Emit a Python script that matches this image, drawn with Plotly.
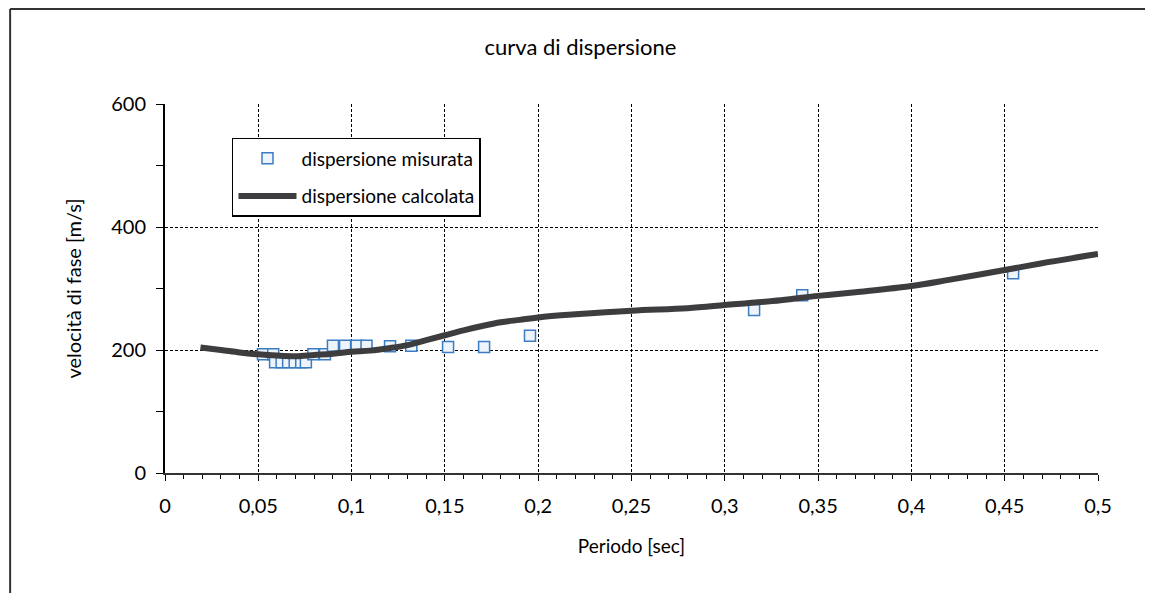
import plotly.graph_objects as go

# dispersione misurata
periodo_mis = [0.0525, 0.058, 0.059, 0.0625, 0.066, 0.0695, 0.073, 0.0755,
               0.0795, 0.0857, 0.090, 0.0965, 0.1027, 0.108, 0.1206, 0.132,
               0.1517, 0.171, 0.1956, 0.3157, 0.3415, 0.4545]
vel_mis = [193, 193, 180, 180, 180, 180, 180, 180,
           193, 193, 207, 207, 207, 207, 206, 207,
           205, 205, 223, 265, 289, 325]

# dispersione calcolata
periodo_calc = [0.019, 0.03, 0.04, 0.05, 0.06, 0.07, 0.08, 0.09, 0.10, 0.11,
                0.12, 0.13, 0.14, 0.15, 0.16, 0.17, 0.18, 0.19, 0.20, 0.22,
                0.25, 0.28, 0.30, 0.33, 0.35, 0.37, 0.40, 0.42, 0.45, 0.47, 0.50]
vel_calc = [204, 200, 196, 193, 191, 190, 192, 194, 197, 199,
            203, 208, 216, 224, 232, 239, 245, 249, 253, 258,
            264, 268, 273, 281, 288, 294, 304, 314, 330, 341, 356]

x_ticks = [0, 0.05, 0.1, 0.15, 0.2, 0.25, 0.3, 0.35, 0.4, 0.45, 0.5]
y_ticks = [0, 200, 400, 600]

font = "Lato"

fig = go.Figure()
fig.add_trace(go.Scatter(
    x=periodo_mis, y=vel_mis, mode="markers", name="dispersione misurata",
    legendgroup="mis",
    marker=dict(symbol="square", size=11, color="#eef4fb",
                line=dict(color="#3b7cc2", width=1.5)),
))
fig.add_trace(go.Scatter(
    x=periodo_calc, y=vel_calc, mode="lines", name="dispersione calcolata",
    legendgroup="calc",
    line=dict(color="#3d3d3f", width=6, shape="spline"),
))

grid = dict(showgrid=True, gridcolor="black", gridwidth=1, griddash="3px,2px")

fig.update_xaxes(
    range=[0, 0.5], tickvals=x_ticks, **grid, zeroline=False,
    showline=True, linecolor="#333", linewidth=2,
    ticks="outside", ticklen=6, tickcolor="black", ticklabelstandoff=8,
    minor=dict(dtick=0.01, ticks="outside", ticklen=4, tickcolor="black", showgrid=False),
    tickfont=dict(family=font, size=20, color="black"),
    title=dict(text="Periodo [sec]", font=dict(family=font, size=19, color="black"), standoff=24),
)
fig.update_yaxes(
    range=[0, 600], tickvals=y_ticks, **grid, zeroline=False,
    showline=True, linecolor="black", linewidth=2,
    ticks="outside", ticklen=7, tickcolor="black", ticklabelstandoff=6,
    minor=dict(tickvals=[100, 300, 500], ticks="outside", ticklen=7, tickcolor="black", showgrid=False),
    tickfont=dict(family=font, size=20, color="black"),
    title=dict(text="velocità di fase [m/s]", font=dict(family=font, size=20, color="black"), standoff=24),
)

# cornice esterna del grafico (sinistra, sopra, destra)
bordo = dict(color="#333", width=2)
fig.add_shape(type="line", xref="paper", yref="paper",
              x0=-0.166, x1=-0.166, y0=-0.325, y1=1.2575, line=bordo)
fig.add_shape(type="line", xref="paper", yref="paper",
              x0=-0.166, x1=1.0525, y0=1.2575, y1=1.2575, line=bordo)
fig.add_shape(type="line", xref="paper", yref="paper",
              x0=1.0525, x1=1.0525, y0=-0.325, y1=1.2575, line=bordo)

fig.update_layout(
    width=1145, height=586,
    margin=dict(l=157, r=55, t=96, b=121),
    paper_bgcolor="white", plot_bgcolor="white",
    separators=",.",
    title=dict(text="curva di dispersione", x=0.5, xanchor="center",
               y=0.933, yanchor="middle",
               font=dict(family=font, size=22, color="black")),
    legend=dict(x=0.0718, y=0.908, xanchor="left", yanchor="top",
                bgcolor="white", bordercolor="black", borderwidth=1.5,
                font=dict(family=font, size=19, color="black"),
                itemwidth=58, tracegroupgap=10),
    showlegend=True,
)

fig.write_html("out.html")
